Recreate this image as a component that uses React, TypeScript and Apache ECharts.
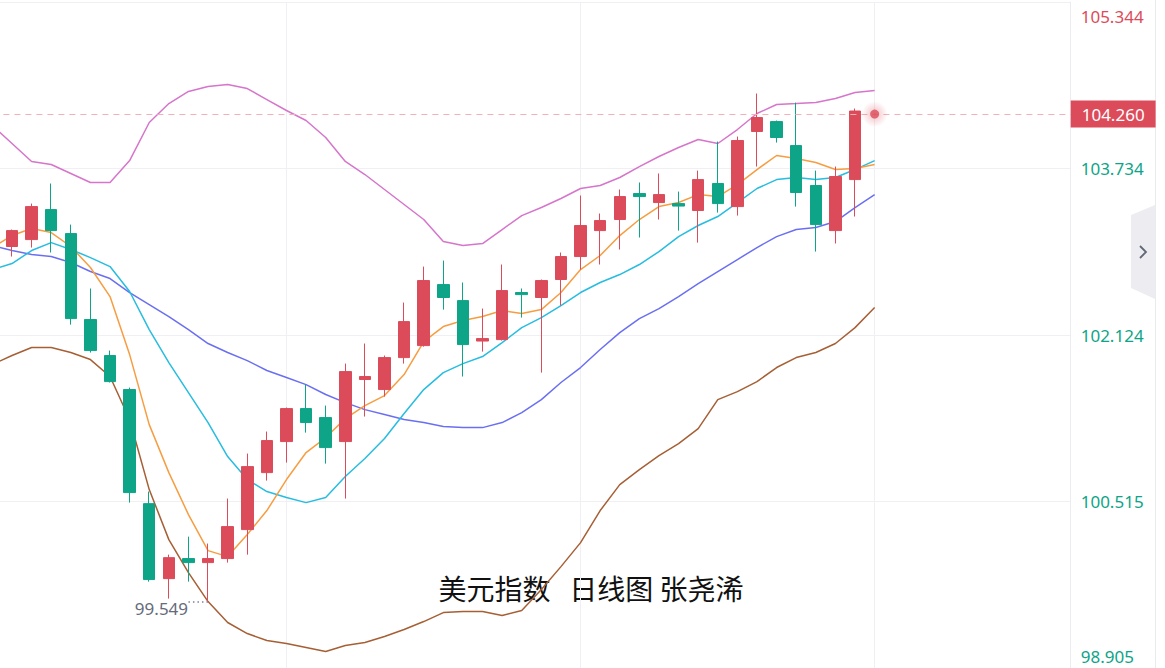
import React, { useEffect, useRef } from 'react';
import * as echarts from 'echarts';

// ---- data ----
// [open, close, low, high]
const candles: any[] = [
  [102.95, 102.99, 102.9, 103.06],
  [102.98, 103.134, 102.883, 103.144],
  [103.047, 103.366, 102.97, 103.395],
  [103.337, 103.134, 102.922, 103.589],
  [103.105, 102.283, 102.225, 103.192],
  [102.274, 101.974, 101.955, 102.574],
  [101.926, 101.674, 101.665, 101.974],
  [101.597, 100.601, 100.504, 101.616],
  [100.494, 99.76, 99.74, 100.611],
  [99.769, 99.972, 99.576, 100.001],
  [99.963, 99.924, 99.74, 100.175],
  [99.924, 99.963, 99.549, 100.108],
  [99.963, 100.272, 99.924, 100.543],
  [100.243, 100.852, 100.001, 100.978],
  [100.794, 101.104, 100.717, 101.191],
  [101.094, 101.413, 100.891, 101.423],
  [101.413, 101.278, 101.181, 101.645],
  [101.326, 101.036, 100.881, 101.442],
  [101.094, 101.771, 100.543, 101.848],
  [101.694, 101.723, 101.336, 102.042],
  [101.597, 101.906, 101.529, 101.926],
  [101.906, 102.254, 101.848, 102.438],
  [102.022, 102.651, 102.012, 102.786],
  [102.612, 102.487, 102.37, 102.844],
  [102.457, 102.032, 101.723, 102.632],
  [102.066, 102.09, 101.964, 102.38],
  [102.08, 102.554, 102.071, 102.806],
  [102.535, 102.515, 102.293, 102.574],
  [102.487, 102.651, 101.761, 102.661],
  [102.661, 102.883, 102.409, 102.922],
  [102.883, 103.183, 102.757, 103.473],
  [103.134, 103.231, 102.806, 103.299],
  [103.241, 103.463, 102.951, 103.531],
  [103.492, 103.463, 103.067, 103.599],
  [103.405, 103.482, 103.241, 103.686],
  [103.395, 103.371, 103.134, 103.511],
  [103.328, 103.627, 103.018, 103.714],
  [103.589, 103.395, 103.308, 103.995],
  [103.366, 104.005, 103.279, 104.043],
  [104.092, 104.227, 103.753, 104.459],
  [104.188, 104.034, 103.985, 104.198],
  [103.956, 103.502, 103.366, 104.372],
  [103.57, 103.192, 102.931, 103.714],
  [103.134, 103.657, 103.009, 103.753],
  [103.627, 104.29, 103.27, 104.314],
  '-',
];

const ma5 = [
  102.97, 103.086, 103.154, 103.115, 102.98, 102.777, 102.496, 101.935, 101.258, 100.794,
  100.388, 100.04, 99.982, 100.195, 100.427, 100.727, 100.988, 101.133, 101.316, 101.442,
  101.539, 101.742, 102.061, 102.206, 102.264, 102.303, 102.361, 102.332, 102.37, 102.535,
  102.757, 102.893, 103.086, 103.241, 103.366, 103.405, 103.482, 103.463, 103.579, 103.724,
  103.86, 103.831, 103.792, 103.724, 103.734, 103.773,
];

const ma10 = [
  102.757, 102.815, 102.941, 103.018, 102.951, 102.873, 102.786, 102.545, 102.177, 101.858,
  101.568, 101.278, 100.949, 100.727, 100.611, 100.553, 100.504, 100.553, 100.756, 100.93,
  101.123, 101.365, 101.597, 101.761, 101.848, 101.916, 102.051, 102.196, 102.293, 102.409,
  102.535, 102.632, 102.709, 102.806, 102.931, 103.076, 103.183, 103.27, 103.405, 103.541,
  103.627, 103.647, 103.627, 103.647, 103.724, 103.811,
];

const ma20 = [
  102.989, 102.941, 102.902, 102.883, 102.825, 102.738, 102.67, 102.535, 102.419, 102.303,
  102.177, 102.042, 101.955, 101.877, 101.781, 101.713, 101.645, 101.549, 101.471, 101.403,
  101.355, 101.307, 101.278, 101.239, 101.229, 101.229, 101.278, 101.374, 101.5, 101.665,
  101.81, 101.984, 102.148, 102.283, 102.38, 102.496, 102.622, 102.738, 102.854, 102.97,
  103.076, 103.144, 103.163, 103.221, 103.357, 103.482,
];

const bollUpper = [
  104.15, 103.976, 103.802, 103.773, 103.686, 103.599, 103.599, 103.811, 104.179, 104.362,
  104.479, 104.527, 104.546, 104.507, 104.401, 104.295, 104.198, 104.034, 103.802, 103.676,
  103.531, 103.386, 103.241, 103.028, 102.989, 103.009, 103.144, 103.279, 103.357, 103.444,
  103.541, 103.57, 103.647, 103.753, 103.85, 103.937, 104.014, 103.976, 104.111, 104.266,
  104.353, 104.362, 104.372, 104.411, 104.469, 104.488,
];

const bollLower = [
  101.839, 101.926, 102.003, 102.003, 101.955, 101.887, 101.723, 101.307, 100.63, 100.146,
  99.827, 99.547, 99.345, 99.238, 99.171, 99.142, 99.103, 99.064, 99.122, 99.151,
  99.209, 99.277, 99.354, 99.441, 99.451, 99.451, 99.412, 99.461, 99.663, 99.885,
  100.117, 100.427, 100.678, 100.823, 100.959, 101.075, 101.22, 101.5, 101.577, 101.674,
  101.81, 101.906, 101.955, 102.042, 102.196, 102.39,
];

const yTicks = ['98.905', '100.515', '102.124', '103.734', '105.344'];
const yMin = 98.905;
const yMax = 105.344;
const lastPrice = 104.26;
const lastPriceLabel = '104.260';
const lastIndex = 45;
const lowPrice = 99.549;
const lowLabel = '99.549';
const lowIndex = 11;
const titleText = '美元指数   日线图 张尧浠';
const slotCount = 56;

const RED = '#dc4b5a';
const GREEN = '#0ea488';

// the chart div is shifted 8px to the left so that the first (partly hidden) slot can sit off-page
const SHIFT = 8;

export default function App() {
  const ref = useRef<HTMLDivElement>(null);

  useEffect(() => {
    const chart = echarts.init(ref.current!, null, { renderer: 'svg' });
    const cats = Array.from({ length: slotCount }, (_, i) => 'D' + (i + 1));
    const step = (yMax - yMin) / 4;

    const line = (name: string, data: number[], color: string) => ({
      type: 'line',
      name,
      data,
      symbol: 'none',
      silent: true,
      z: 3,
      lineStyle: { width: 1.5, color },
      itemStyle: { color },
    });

    chart.setOption({
      animation: false,
      grid: { left: 0.4, right: 94.3, top: 2, height: 666 },
      xAxis: {
        type: 'category',
        data: cats,
        boundaryGap: false,
        axisLine: { show: false },
        axisTick: { show: false },
        axisLabel: { show: false },
        splitLine: {
          show: true,
          interval: (i: number) => i % 15 === 0,
          lineStyle: { color: '#f0f0f4', width: 1 },
        },
      },
      yAxis: {
        type: 'value',
        position: 'right',
        min: yMin,
        max: yMax,
        interval: step,
        axisLine: { show: true, lineStyle: { color: '#ececf0' } },
        axisTick: { show: false },
        splitLine: { show: true, lineStyle: { color: '#f0f0f4', width: 1 } },
        axisLabel: {
          margin: 10,
          fontSize: 17,
          fontFamily: 'Noto Sans',
          formatter: (v: number) => {
            const k = Math.round((v - yMin) / step);
            const t = yTicks[k];
            if (k === 4) return `{top|${t}}`;
            if (k === 0) return `{bot|${t}}`;
            return `{mid|${t}}`;
          },
          rich: {
            top: { color: RED, fontSize: 17, fontFamily: 'Noto Sans', padding: [28, 0, 0, 0] },
            mid: { color: GREEN, fontSize: 17, fontFamily: 'Noto Sans' },
            bot: { color: GREEN, fontSize: 17, fontFamily: 'Noto Sans', padding: [0, 0, 24, 0] },
          },
        },
      },
      series: [
        line('BOLL-LOWER', bollLower, '#a65f34'),
        line('BOLL-UPPER', bollUpper, '#d675cb'),
        line('MA20', ma20, '#6a6ff2'),
        line('MA10', ma10, '#27bde0'),
        line('MA5', ma5, '#f79d41'),
        {
          type: 'candlestick',
          data: candles,
          barWidth: 12,
          z: 4,
          silent: true,
          itemStyle: {
            color: RED,
            color0: GREEN,
            borderColor: RED,
            borderColor0: GREEN,
            borderWidth: 1,
          },
          markLine: {
            silent: true,
            symbol: ['none', 'none'],
            animation: false,
            data: [
              {
                yAxis: lastPrice,
                lineStyle: { type: [6, 5], color: '#f3b0b8', width: 1 },
                label: {
                  show: true,
                  position: 'end',
                  distance: 0,
                  formatter: lastPriceLabel,
                  color: '#fff',
                  backgroundColor: RED,
                  fontSize: 17,
                  fontFamily: 'Noto Sans',
                  lineHeight: 19,
                  padding: [4, 11, 4, 11],
                },
              },
              [
                {
                  coord: [lowIndex - 1, lowPrice],
                  lineStyle: { type: [1.5, 3], color: '#7d8394', width: 1.5 },
                  label: { show: false },
                },
                { coord: [lowIndex, lowPrice] },
              ],
            ],
          },
          markPoint: {
            silent: true,
            animation: false,
            data: [
              {
                coord: [lowIndex, lowPrice],
                symbol: 'circle',
                symbolSize: 0,
                itemStyle: { color: 'rgba(0,0,0,0)' },
                label: {
                  show: true,
                  position: 'left',
                  distance: 20,
                  offset: [0, 7],
                  formatter: lowLabel,
                  color: '#666b7b',
                  fontSize: 17,
                  fontFamily: 'Noto Sans',
                },
              },
            ],
          },
        },
        {
          type: 'scatter',
          silent: true,
          z: 6,
          symbolSize: 26,
          data: [[lastIndex, lastPrice]],
          itemStyle: {
            color: {
              type: 'radial',
              x: 0.5,
              y: 0.5,
              r: 0.5,
              colorStops: [
                { offset: 0, color: 'rgba(220,75,90,0.45)' },
                { offset: 1, color: 'rgba(220,75,90,0)' },
              ],
            },
          },
        },
        {
          type: 'scatter',
          silent: true,
          z: 7,
          symbolSize: 9,
          data: [[lastIndex, lastPrice]],
          itemStyle: { color: RED },
        },
      ],
      graphic: [
        {
          type: 'line',
          silent: true,
          shape: { x1: 1155.5 + SHIFT, y1: 0, x2: 1155.5 + SHIFT, y2: 668 },
          style: { stroke: '#ebebef', lineWidth: 1 },
        },
        {
          type: 'polygon',
          silent: true,
          shape: {
            points: [
              [1131 + SHIFT, 215],
              [1155 + SHIFT, 205],
              [1155 + SHIFT, 299],
              [1131 + SHIFT, 288],
            ],
          },
          style: { fill: '#ededf1' },
        },
        {
          type: 'polyline',
          silent: true,
          shape: {
            points: [
              [1140 + SHIFT, 246],
              [1146 + SHIFT, 252],
              [1140 + SHIFT, 258],
            ],
          },
          style: { stroke: '#626878', lineWidth: 1.8, fill: null },
        },
        {
          type: 'text',
          silent: true,
          x: 591 + SHIFT,
          y: 588,
          style: {
            text: titleText,
            fontSize: 28,
            fontFamily: '"Noto Sans CJK SC"',
            fill: '#111',
            align: 'center',
            verticalAlign: 'middle',
          },
        },
      ],
    });

    return () => chart.dispose();
  }, []);

  return (
    <div
      ref={ref}
      style={{
        position: 'absolute',
        left: -SHIFT,
        top: 0,
        width: 1165 + SHIFT,
        height: 668,
        background: '#fff',
      }}
    />
  );
}
